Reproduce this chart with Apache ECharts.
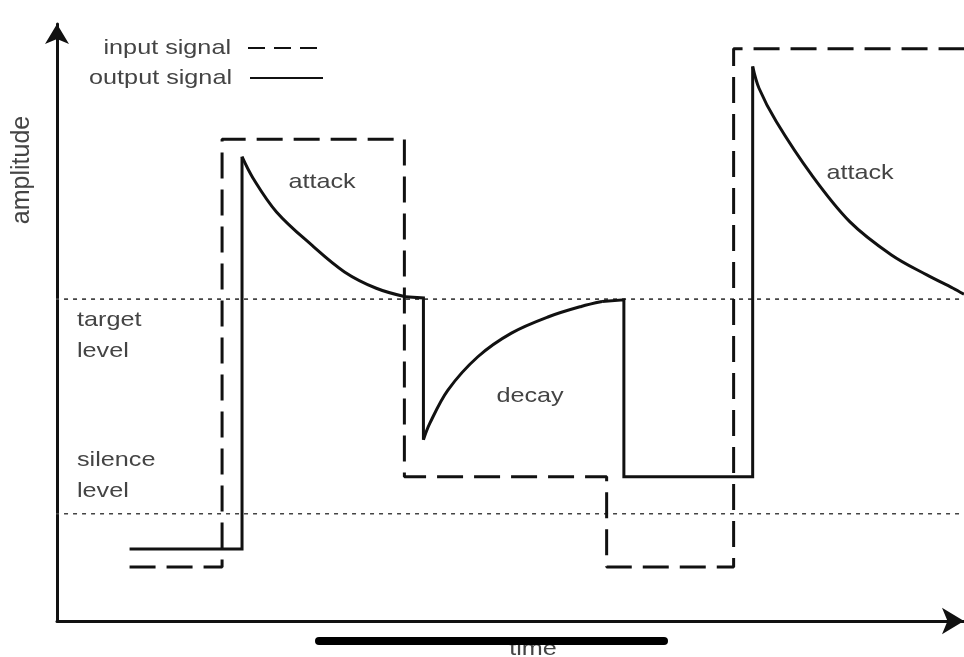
<!DOCTYPE html>
<html>
<head>
<meta charset="utf-8">
<script src="https://cdn.jsdelivr.net/npm/echarts@6/dist/echarts.min.js"></script>
<style>html,body{margin:0;padding:0;background:#fff}#c{width:964px;height:657px}</style>
</head>
<body>
<div id="c"></div>
<script>
// Input signal (dashed rectangular steps): time, amplitude
const inputTime = [8.0, 18.2, 18.2, 38.3, 38.3, 60.6, 60.6, 74.6, 74.6, 100];
const inputAmp  = [8.9, 8.9, 79.5, 79.5, 23.8, 23.8, 8.9, 8.9, 94.4, 94.4];

// Output signal straight parts
const outStep1Time = [8.0, 20.4, 20.4];
const outStep1Amp  = [11.9, 11.9, 76.6];
const outStep2Time = [38.4, 40.4, 40.4];
const outStep2Amp  = [53.5, 53.3, 29.9];
const outStep3Time = [60.1, 62.5, 62.5, 76.7, 76.7];
const outStep3Amp  = [52.7, 53.0, 23.8, 23.8, 91.5];

// Output signal curved parts
const attack1Time = [20.4, 21.6, 24.2, 28.1, 31.7, 35.2, 38.4];
const attack1Amp  = [76.6, 73.1, 67.5, 62.0, 57.6, 54.9, 53.5];
const decayTime   = [40.4, 41.1, 43.1, 46.4, 50.1, 54.2, 57.8, 60.1];
const decayAmp    = [29.9, 32.6, 38.1, 43.6, 47.5, 50.2, 51.9, 52.7];
const attack2Time = [76.7, 77.4, 79.3, 83.2, 87.4, 92.0, 95.9, 98.8, 100];
const attack2Amp  = [91.5, 87.9, 82.4, 73.6, 65.9, 60.4, 57.1, 54.9, 53.9];

// Reference levels
const levelStart = -2.2, levelEnd = 100;
const targetLevel = 53.1;
const silenceLevel = 17.7;

const legendNames = ['input signal', 'output signal'];
const regionLabels = ['attack', 'decay', 'attack'];

function pairs(xs, ys) { return xs.map((x, i) => [x, ys[i]]); }

const INK = '#111';
const TXT = '#444';
const FONT = '"Liberation Sans", Arial, Helvetica, sans-serif';

const solid = { color: INK, width: 3, type: 'solid', cap: 'butt', join: 'miter' };

function outSeries(xs, ys, smooth) {
  return {
    name: 'output signal', type: 'line', data: pairs(xs, ys), smooth: smooth,
    symbol: 'none', clip: false, lineStyle: solid, z: 3, silent: true
  };
}

const chart = echarts.init(document.getElementById('c'), null, { renderer: 'canvas' });
chart.setOption({
  animation: false,
  backgroundColor: '#fff',
  grid: { left: 57, right: 0, top: 24, bottom: 36 },
  xAxis: {
    type: 'value', min: 0, max: 100,
    axisLine: { show: true, onZero: false, symbol: ['none', 'arrow'], symbolSize: [20, 22],
      lineStyle: { color: INK, width: 3 } },
    axisTick: { show: false }, axisLabel: { show: false }, splitLine: { show: false }
  },
  yAxis: {
    type: 'value', min: 0, max: 98.5,
    axisLine: { show: true, onZero: false, symbol: ['none', 'arrow'], symbolSize: [18, 20],
      lineStyle: { color: INK, width: 3 } },
    axisTick: { show: false }, axisLabel: { show: false }, splitLine: { show: false }
  },
  series: [
    { name: 'target level', type: 'line', symbol: 'none', clip: false, silent: true, z: 1,
      data: [[levelStart, targetLevel], [levelEnd, targetLevel]],
      lineStyle: { color: '#444', width: 1.6, type: [4, 5] } },
    { name: 'silence level', type: 'line', symbol: 'none', clip: false, silent: true, z: 1,
      data: [[levelStart, silenceLevel], [levelEnd, silenceLevel]],
      lineStyle: { color: '#444', width: 1.6, type: [4, 5] } },
    { name: 'input signal', type: 'line', symbol: 'none', clip: false, silent: true, z: 2,
      data: pairs(inputTime, inputAmp),
      lineStyle: { color: INK, width: 3, type: [26, 11] } },
    outSeries(outStep1Time, outStep1Amp, false),
    outSeries(outStep2Time, outStep2Amp, false),
    outSeries(outStep3Time, outStep3Amp, false),
    outSeries(attack1Time, attack1Amp, 0.35),
    outSeries(decayTime, decayAmp, 0.35),
    outSeries(attack2Time, attack2Amp, 0.35)
  ],
  graphic: [
    // legend
    { type: 'text', x: 231, y: 48, scaleX: 1.2, style: { text: legendNames[0], font: '21px ' + FONT, fill: TXT, align: 'right', verticalAlign: 'middle' } },
    { type: 'line', shape: { x1: 248, y1: 48, x2: 323, y2: 48 }, style: { stroke: INK, lineWidth: 2, lineDash: [17, 9] } },
    { type: 'text', x: 232, y: 78, scaleX: 1.2, style: { text: legendNames[1], font: '21px ' + FONT, fill: TXT, align: 'right', verticalAlign: 'middle' } },
    { type: 'line', shape: { x1: 250, y1: 78, x2: 323, y2: 78 }, style: { stroke: INK, lineWidth: 2 } },
    // axis titles
    { type: 'text', x: 22, y: 170, rotation: Math.PI / 2, style: { text: 'amplitude', font: '25px ' + FONT, fill: TXT, align: 'center', verticalAlign: 'middle' } },
    { type: 'text', x: 533, y: 649, scaleX: 1.2, z: 1, style: { text: 'time', font: '21px ' + FONT, fill: TXT, align: 'center', verticalAlign: 'middle' } },
    // region labels
    { type: 'text', x: 322, y: 182, scaleX: 1.2, style: { text: regionLabels[0], font: '21px ' + FONT, fill: TXT, align: 'center', verticalAlign: 'middle' } },
    { type: 'text', x: 530, y: 396, scaleX: 1.2, style: { text: regionLabels[1], font: '21px ' + FONT, fill: TXT, align: 'center', verticalAlign: 'middle' } },
    { type: 'text', x: 860, y: 173, scaleX: 1.2, style: { text: regionLabels[2], font: '21px ' + FONT, fill: TXT, align: 'center', verticalAlign: 'middle' } },
    // level labels
    { type: 'text', x: 77, y: 320, scaleX: 1.2, style: { text: 'target', font: '21px ' + FONT, fill: TXT, align: 'left', verticalAlign: 'middle' } },
    { type: 'text', x: 77, y: 351, scaleX: 1.2, style: { text: 'level', font: '21px ' + FONT, fill: TXT, align: 'left', verticalAlign: 'middle' } },
    { type: 'text', x: 77, y: 460, scaleX: 1.2, style: { text: 'silence', font: '21px ' + FONT, fill: TXT, align: 'left', verticalAlign: 'middle' } },
    { type: 'text', x: 77, y: 491, scaleX: 1.2, style: { text: 'level', font: '21px ' + FONT, fill: TXT, align: 'left', verticalAlign: 'middle' } },
    // thick bar overlay at the bottom
    { type: 'line', z: 10, shape: { x1: 319, y1: 641, x2: 664, y2: 641 }, style: { stroke: '#000', lineWidth: 8, lineCap: 'round' } }
  ]
});
</script>
</body>
</html>
